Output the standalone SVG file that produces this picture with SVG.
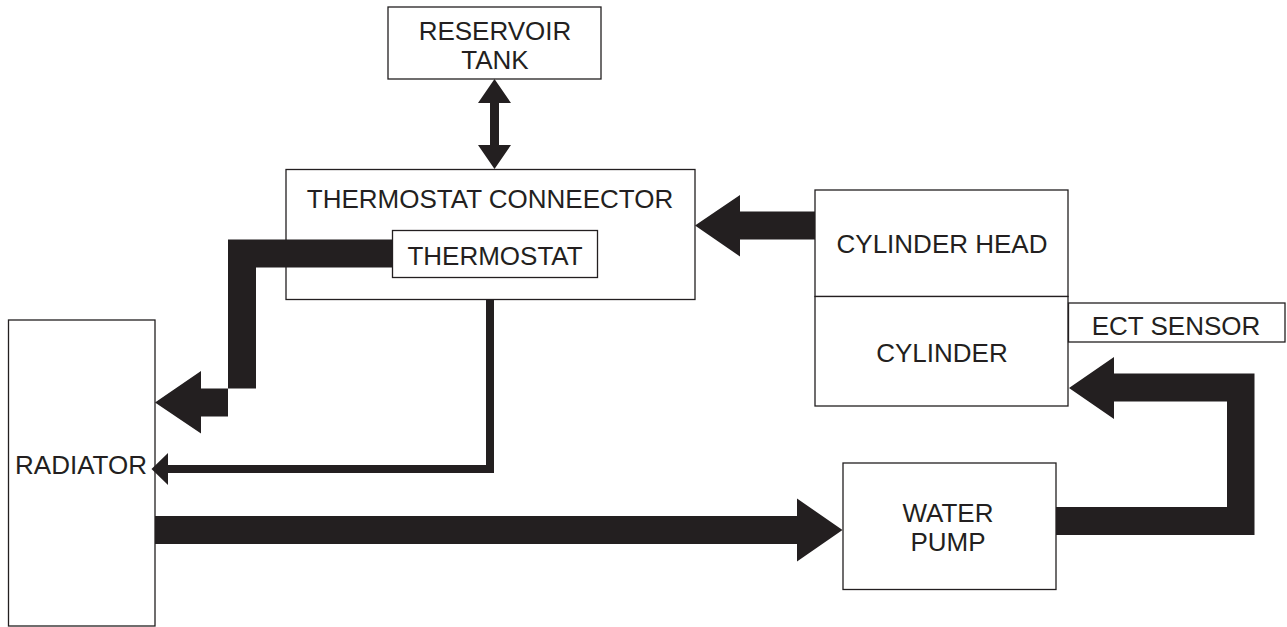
<svg xmlns="http://www.w3.org/2000/svg" width="1287" height="627" viewBox="0 0 1287 627">
<style>
.box{fill:#fff;stroke:#231f20;stroke-width:1.3}
.lbl{font-family:"Liberation Sans",Arial,sans-serif;font-size:26px;fill:#231f20;text-anchor:middle}
.flow{fill:#231f20;stroke:none}
</style>
<rect width="1287" height="627" fill="#fff"/>
<g id="reservoir-tank">
<rect class="box" x="388" y="7" width="213" height="72"/>
<text class="lbl" x="495" y="40">RESERVOIR</text>
<text class="lbl" x="495" y="69">TANK</text>
</g>
<g id="thermostat-connector">
<rect class="box" x="286" y="169.5" width="409" height="130"/>
<text class="lbl" x="490" y="207.5">THERMOSTAT CONNEECTOR</text>
</g>
<g id="cylinder-head">
<rect class="box" x="815" y="190" width="253" height="106.5"/>
<text class="lbl" x="942" y="252.5">CYLINDER HEAD</text>
</g>
<g id="cylinder">
<rect class="box" x="815" y="296.5" width="253" height="109.5"/>
<text class="lbl" x="942" y="361.5">CYLINDER</text>
</g>
<g id="ect-sensor">
<rect class="box" x="1068.5" y="303" width="216.5" height="39"/>
<text class="lbl" x="1176" y="335">ECT SENSOR</text>
</g>
<g id="radiator">
<rect class="box" x="8.5" y="320" width="146.5" height="306"/>
<text class="lbl" x="81" y="474">RADIATOR</text>
</g>
<g id="water-pump">
<rect class="box" x="843" y="463" width="213" height="126.5"/>
<text class="lbl" x="948" y="522">WATER</text>
<text class="lbl" x="948" y="551">PUMP</text>
</g>
<g id="connectors">
<polygon class="flow" points="494.5,79 511,103 499,103 499,145 511,145 494.5,169 478,145 490,145 490,103 478,103"/>
<polygon class="flow" points="815,211.5 740,211.5 740,195 695,225.5 740,256.5 740,239.5 815,239.5"/>
<polygon class="flow" points="392.5,239.5 228,239.5 228,416.5 201,416.5 201,433.5 155,402.5 201,371 201,388.5 256,388.5 256,267.5 392.5,267.5"/>
<polygon class="flow" points="486,300 494,300 494,473 168,473 168,485 151.5,469 168,453 168,465 486,465"/>
<polygon class="flow" points="155,516 797,516 797,498.5 842.5,530 797,561.5 797,544 155,544"/>
<polygon class="flow" points="1056,507 1227,507 1227,401.5 1114,401.5 1114,419 1069,388 1114,357 1114,373.5 1254.5,373.5 1254.5,535 1056,535"/>
</g>
<g id="thermostat">
<rect class="box" x="392.5" y="230.5" width="205" height="47"/>
<text class="lbl" x="495" y="264.5">THERMOSTAT</text>
</g>
</svg>
